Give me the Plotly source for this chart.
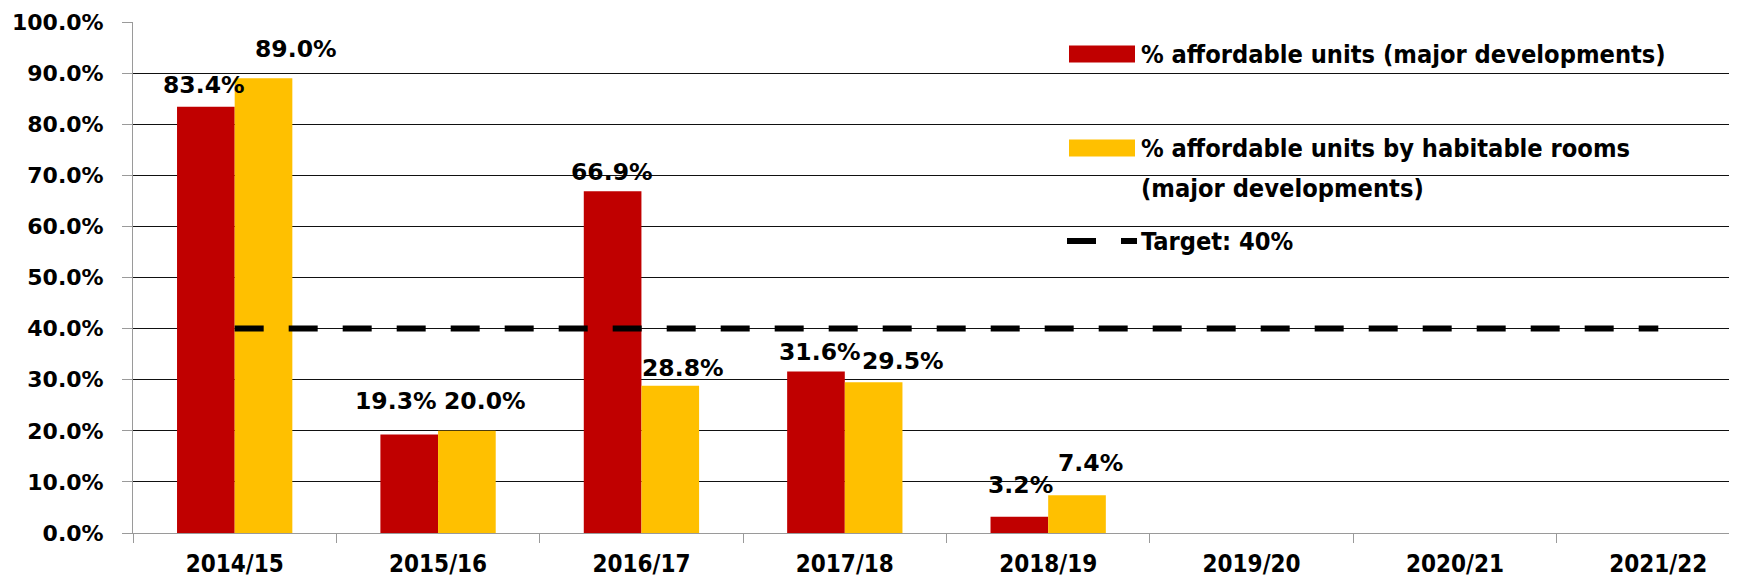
import plotly.graph_objects as go

# ---------------- data ----------------
categories = ["2014/15", "2015/16", "2016/17", "2017/18", "2018/19",
              "2019/20", "2020/21", "2021/22"]
pct_affordable_units = [0.834, 0.193, 0.669, 0.316, 0.032, None, None, None]
pct_affordable_rooms = [0.890, 0.200, 0.288, 0.295, 0.074, None, None, None]
target_values = [0.40, 0.40, 0.40, 0.40, 0.40, 0.40, 0.40, 0.40]
y_tick_values = [0.0, 0.1, 0.2, 0.3, 0.4, 0.5, 0.6, 0.7, 0.8, 0.9, 1.0]
y_tick_labels = ["0.0%", "10.0%", "20.0%", "30.0%", "40.0%", "50.0%",
                 "60.0%", "70.0%", "80.0%", "90.0%", "100.0%"]
series_names = ["% affordable units (major developments)",
                "% affordable units by habitable rooms",
                "(major developments)",
                "Target: 40%"]

# ---------------- style ----------------
RED = "#C00000"
YELLOW = "#FFC000"
AXIS_GREY = "#9a9a9a"
PAGE_OFF = 8               # default body margin of the html page
W, H = 1737 - PAGE_OFF, 579 - PAGE_OFF
ML, MR, MT, MB = 125, 0, 14, 46
PLOT_W = W - ML - MR
PLOT_H = H - MT - MB
WIDE_FONT = "DejaVu Sans"
NARROW_FONT = "DejaVu Sans Condensed, Roboto, sans-serif"
BAR_HALF = 28.85          # half of one bar's width in px (group offset)
# manual label nudges (px), as the labels were moved by hand in the original
units_label_nudge = [(-2, 22), (-13, 33), (-1, 19), (4, 19.5), (1, 31.5)]
rooms_label_nudge = [(32, 29.5), (18, 30), (13, 18), (29, 21), (13, 32)]


def px_x(px):
    return (px - PAGE_OFF - ML) / PLOT_W


def px_y(py):
    return (H - MB - (py - PAGE_OFF)) / PLOT_H


fig = go.Figure()
fig.add_trace(go.Bar(
    x=categories, y=pct_affordable_units, name=series_names[0],
    marker=dict(color=RED, line=dict(width=0)), showlegend=False,
))
fig.add_trace(go.Bar(
    x=categories, y=pct_affordable_rooms,
    name=series_names[1] + " " + series_names[2],
    marker=dict(color=YELLOW, line=dict(width=0)), showlegend=False,
))
fig.add_trace(go.Scatter(
    x=categories, y=target_values, name=series_names[3], mode="lines",
    line=dict(color="black", width=6, dash="29px,25px"),
    showlegend=False, hoverinfo="skip",
))

# ---------------- data labels ----------------
label_font = dict(family=WIDE_FONT, size=23.5, color="black", weight="bold")
annotations = []
for values, side, nudges in ((pct_affordable_units, -1, units_label_nudge),
                             (pct_affordable_rooms, 1, rooms_label_nudge)):
    k = 0
    for cat, v in zip(categories, values):
        if v is None:
            continue
        dx, dy = nudges[k]
        k += 1
        annotations.append(dict(
            x=cat, y=v, xref="x", yref="y", text=f"{v:.1%}",
            xanchor="center", yanchor="middle", showarrow=False,
            xshift=side * BAR_HALF + dx, yshift=dy, font=label_font))

# ---------------- custom legend (decoration) ----------------
legend_font = dict(family=NARROW_FONT, size=25.2, color="black", weight="bold")
shapes = [
    dict(type="rect", xref="paper", yref="paper",
         x0=px_x(1069), x1=px_x(1135), y0=px_y(62.5), y1=px_y(45.5),
         fillcolor=RED, line=dict(width=0)),
    dict(type="rect", xref="paper", yref="paper",
         x0=px_x(1069), x1=px_x(1135), y0=px_y(156.5), y1=px_y(139.5),
         fillcolor=YELLOW, line=dict(width=0)),
    dict(type="line", xref="paper", yref="paper",
         x0=px_x(1067), x1=px_x(1137), y0=px_y(241), y1=px_y(241),
         line=dict(color="black", width=6, dash="29px,25px")),
]
legend_rows = [(series_names[0], 54), (series_names[1], 148),
               (series_names[2], 188), (series_names[3], 241)]
annotations += [
    dict(text=t, xref="paper", yref="paper", x=px_x(1139), y=px_y(py),
         xanchor="left", yanchor="middle", showarrow=False, font=legend_font)
    for t, py in legend_rows
]

fig.update_layout(
    width=W, height=H,
    margin=dict(l=ML, r=MR, t=MT, b=MB, pad=0, autoexpand=False),
    paper_bgcolor="white", plot_bgcolor="white",
    barmode="group", bargap=0.433, bargroupgap=0,
    shapes=shapes, annotations=annotations,
    showlegend=False,
)
fig.update_xaxes(
    type="category", range=[-0.5, 7.387], automargin=False,
    tickson="boundaries", ticks="outside", ticklen=9, tickcolor=AXIS_GREY,
    showline=True, linecolor=AXIS_GREY, linewidth=1, showgrid=False,
    tickfont=dict(family=NARROW_FONT, size=24, color="black", weight="bold"),
    ticklabelstandoff=9,
)
fig.update_yaxes(
    range=[0, 1], tickvals=y_tick_values, ticktext=y_tick_labels,
    automargin=False,
    ticks="outside", ticklen=10, tickcolor=AXIS_GREY,
    showline=True, linecolor=AXIS_GREY, linewidth=1,
    showgrid=True, gridcolor="#111111", gridwidth=1, zeroline=False,
    tickfont=dict(family=WIDE_FONT, size=22, color="black", weight="bold"),
    ticklabelstandoff=14,
)

fig.write_html("out.html")
